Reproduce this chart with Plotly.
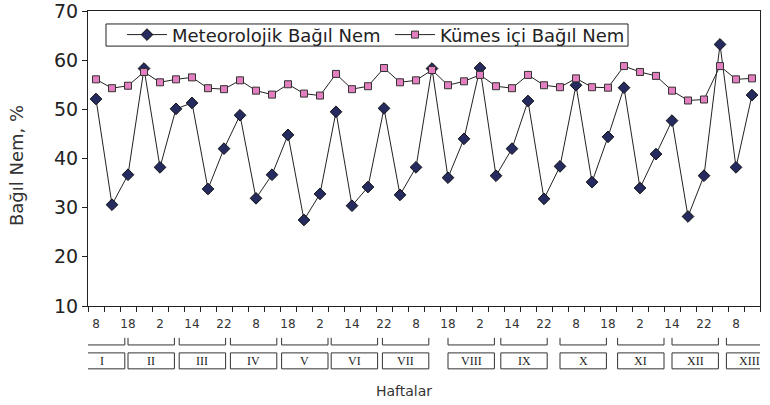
import plotly.graph_objects as go

# ---- data ----
hour_labels = ["8", "18", "2", "14", "22"]
meteo = [52.1, 30.6, 36.7, 58.3, 38.2, 50.1, 51.3, 33.8, 42.0, 48.8,
         31.9, 36.7, 44.8, 27.5, 32.8, 49.5, 30.4, 34.2, 50.2, 32.6,
         38.2, 58.3, 36.1, 44.0, 58.4, 36.5, 42.0, 51.7, 31.8, 38.4,
         54.9, 35.2, 44.4, 54.4, 34.0, 40.9, 47.7, 28.2, 36.5, 63.2,
         38.2, 52.9]
kumes = [56.1, 54.3, 54.8, 57.6, 55.5, 56.1, 56.5, 54.3, 54.1, 55.9,
         53.8, 53.0, 55.1, 53.2, 52.8, 57.2, 54.1, 54.7, 58.4, 55.5,
         55.9, 58.0, 54.9, 55.7, 57.0, 54.7, 54.3, 57.0, 54.9, 54.5,
         56.3, 54.5, 54.4, 58.8, 57.6, 56.8, 53.8, 51.8, 52.0, 58.8,
         56.1, 56.3]
week_labels = ["I", "II", "III", "IV", "V", "VI", "VII", "VIII", "IX",
               "X", "XI", "XII", "XIII"]

# ---- layout helpers (group box placement, in category units) ----
week_box_start = [-1.1, 2.0, 5.2, 8.4, 11.6, 14.7, 17.9, 22.0, 25.3,
                  29.0, 32.6, 36.0, 39.4]
week_box_width = 2.9

n = len(meteo)
x = list(range(n))
tick_pos = x[::2]
tick_text = [hour_labels[i % len(hour_labels)] for i in range(len(tick_pos))]

fig = go.Figure()
fig.add_trace(go.Scatter(
    x=x, y=meteo, name="Meteorolojik Bağıl Nem", mode="lines+markers",
    line=dict(color="#222222", width=1),
    marker=dict(symbol="diamond", size=9, color="#252b5e",
                line=dict(color="#111111", width=1)),
))
fig.add_trace(go.Scatter(
    x=x, y=kumes, name="Kümes içi Bağıl Nem", mode="lines+markers",
    line=dict(color="#222222", width=1),
    marker=dict(symbol="square", size=7, color="#e27fbe",
                line=dict(color="#333333", width=1)),
))

shapes = []
annotations = []
# legend frame
shapes.append(dict(type="rect", xref="paper", yref="paper",
                   x0=0.0268, x1=0.8036, y0=0.881, y1=0.956,
                   line=dict(color="#222222", width=1), fillcolor="white",
                   layer="below"))
for lab, s in zip(week_labels, week_box_start):
    e = s + week_box_width
    # bracket
    shapes.append(dict(type="path", xref="x", yref="paper",
                       path=f"M {s},-0.108 L {s},-0.132 L {e},-0.132 L {e},-0.108",
                       line=dict(color="#333333", width=1)))
    # box
    shapes.append(dict(type="rect", xref="x", yref="paper",
                       x0=s, x1=e, y0=-0.213, y1=-0.159,
                       line=dict(color="#333333", width=1)))
    annotations.append(dict(x=(s + e) / 2, y=-0.186, xref="x", yref="paper",
                            xanchor="center", yanchor="middle",
                            text=lab, showarrow=False,
                            font=dict(family="Liberation Serif", size=12, color="#222222")))

annotations.append(dict(x=0.470, y=-0.288, xref="paper", yref="paper",
                        xanchor="center", yanchor="middle",
                        text="Haftalar", showarrow=False,
                        font=dict(family="DejaVu Sans", size=14, color="#333333")))
annotations.append(dict(x=-0.106, y=0.477, xref="paper", yref="paper",
                        xanchor="center", yanchor="middle",
                        text="Bağıl Nem, %", showarrow=False, textangle=-90,
                        font=dict(family="DejaVu Sans", size=18, color="#333333")))

fig.update_layout(
    width=770, height=405,
    margin=dict(l=88, r=10, t=11, b=99),
    paper_bgcolor="white", plot_bgcolor="white",
    showlegend=True,
    legend=dict(orientation="h", x=0.0506, y=0.919, xanchor="left", yanchor="middle",
                bgcolor="rgba(0,0,0,0)", borderwidth=0,
                font=dict(family="DejaVu Sans", size=18, color="#222222"),
                tracegroupgap=0, itemwidth=40, entrywidth=213,
                entrywidthmode="pixels"),
    shapes=shapes, annotations=annotations,
    font=dict(family="DejaVu Sans"),
)
fig.update_xaxes(
    range=[-0.5, n - 0.5], tickmode="array", tickvals=tick_pos, ticktext=tick_text,
    ticks="outside", ticklen=7, tickcolor="rgba(0,0,0,0)", automargin=False,
    showline=True, linecolor="#222222", linewidth=1, mirror=True,
    showgrid=False, zeroline=False,
    tickfont=dict(family="DejaVu Sans", size=12, color="#333333"),
    minor=dict(tick0=-0.5, dtick=1, ticks="outside", ticklen=5,
               tickcolor="#222222", showgrid=False),
)
fig.update_yaxes(
    range=[10, 70], dtick=10, ticks="outside", ticklen=5, tickcolor="#222222",
    automargin=False, ticklabeloverflow="allow",
    showline=True, linecolor="#222222", linewidth=1, mirror=True,
    showgrid=False, zeroline=False,
    tickfont=dict(family="DejaVu Sans", size=19, color="#222222"),
)

fig.write_html("out.html", config={"displayModeBar": False},
               post_script="document.body.style.margin='0';")
